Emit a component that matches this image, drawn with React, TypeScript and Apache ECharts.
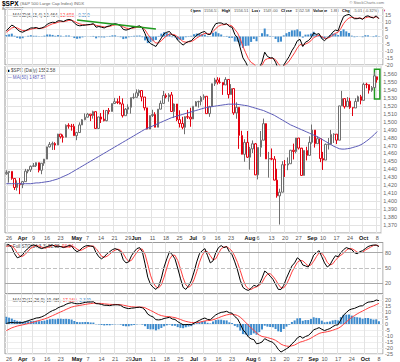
import React, { useEffect, useRef } from 'react';
import * as echarts from 'echarts';

const dates = [
  '3/23','3/26','3/27','3/28','3/29','3/30',
  '4/2','4/3','4/4','4/5','4/9','4/10','4/11','4/12','4/13','4/16','4/17','4/18','4/19','4/20','4/23','4/24','4/25','4/26','4/27','4/30',
  '5/1','5/2','5/3','5/4','5/7','5/8','5/9','5/10','5/11','5/14','5/15','5/16','5/17','5/18','5/21','5/22','5/23','5/24','5/25','5/29','5/30','5/31',
  '6/1','6/4','6/5','6/6','6/7','6/8','6/11','6/12','6/13','6/14','6/15','6/18','6/19','6/20','6/21','6/22','6/25','6/26','6/27','6/28','6/29',
  '7/2','7/3','7/5','7/6','7/9','7/10','7/11','7/12','7/13','7/16','7/17','7/18','7/19','7/20','7/23','7/24','7/25','7/26','7/27','7/30','7/31',
  '8/1','8/2','8/3','8/6','8/7','8/8','8/9','8/10','8/13','8/14','8/15','8/16','8/17','8/20','8/21','8/22','8/23','8/24','8/27','8/28','8/29','8/30','8/31',
  '9/4','9/5','9/6','9/7','9/10','9/11','9/12','9/13','9/14','9/17','9/18','9/19','9/20','9/21','9/24','9/25','9/26','9/27','9/28',
  '10/1','10/2','10/3','10/4','10/5','10/8'
];
const padDate = '10/9';

const xTickDates = ['3/26','4/2','4/9','4/16','4/23','5/1','5/7','5/14','5/21','5/29','6/1','6/11','6/18','6/25','7/2','7/9','7/16','7/23','8/1','8/6','8/13','8/20','8/27','9/4','9/10','9/17','9/24','10/1','10/8'];
const xTickTexts = ['26','Apr','9','16','23','May','7','14','21','29','Jun','11','18','25','Jul','9','16','23','Aug','6','13','20','27','Sep','10','17','24','Oct','8'];

const opens = [1434.5,1436.1,1437.5,1428.6,1417.2,1422.5,1420.9,1424.6,1437.8,1439.4,1443.8,1444.6,1448.4,1438.9,1447.8,1452.9,1468.3,1471.5,1472.5,1470.7,1484.4,1480.9,1480.4,1495.4,1494.3,1494.1,1482.4,1486.3,1495.9,1502.4,1505.6,1509.5,1507.7,1512.6,1491.5,1505.9,1503.2,1501.2,1514.1,1512.8,1522.8,1525.1,1524.1,1522.3,1507.5,1515.7,1518.1,1530.2,1530.6,1536.3,1539.2,1531.0,1517.4,1490.7,1507.7,1509.1,1493.0,1515.7,1523.0,1532.9,1531.1,1533.7,1512.8,1522.2,1502.6,1497.7,1492.9,1506.3,1505.7,1503.4,1519.4,1524.9,1525.4,1530.4,1531.9,1510.1,1518.8,1547.7,1552.5,1549.5,1549.4,1546.2,1553.1,1534.1,1541.6,1511.0,1518.1,1482.7,1459.0,1473.9,1455.3,1465.8,1472.2,1433.1,1467.7,1476.7,1497.5,1453.1,1453.6,1452.9,1426.5,1406.7,1411.3,1445.9,1445.6,1447.1,1464.1,1462.5,1479.4,1466.8,1432.4,1463.8,1457.6,1474.0,1489.4,1472.3,1478.6,1453.6,1451.7,1471.5,1471.6,1484.0,1484.3,1476.7,1519.8,1529.0,1518.8,1525.8,1517.7,1517.2,1525.4,1531.4,1526.8,1547.0,1546.6,1539.6,1542.8,1556.5];
const highs = [1438.9,1437.7,1437.5,1428.6,1426.2,1429.2,1425.5,1440.6,1440.2,1444.9,1448.0,1448.7,1448.4,1448.0,1453.1,1468.6,1474.4,1474.9,1474.2,1484.7,1484.4,1483.8,1496.6,1498.0,1497.2,1497.2,1487.3,1499.1,1503.3,1510.3,1511.0,1509.5,1513.8,1512.6,1506.2,1510.9,1514.8,1514.2,1517.2,1522.8,1529.9,1529.2,1532.4,1529.3,1517.1,1521.8,1530.2,1535.6,1540.6,1540.5,1539.2,1531.0,1517.4,1507.8,1515.0,1511.9,1515.7,1526.5,1538.7,1535.4,1535.9,1537.3,1522.9,1522.2,1514.3,1506.1,1506.8,1514.8,1517.5,1519.4,1526.0,1526.3,1532.4,1534.3,1531.9,1519.9,1547.9,1555.1,1555.9,1555.3,1549.4,1555.9,1553.1,1547.2,1541.6,1524.3,1518.1,1488.5,1477.9,1488.3,1468.4,1476.4,1473.2,1467.7,1488.3,1503.9,1497.2,1462.0,1466.3,1456.7,1440.8,1415.7,1450.3,1451.8,1455.0,1464.5,1472.4,1479.4,1479.4,1466.3,1463.8,1468.4,1481.5,1496.4,1489.4,1481.5,1478.6,1462.0,1472.5,1479.5,1489.6,1485.4,1484.3,1519.9,1538.7,1529.1,1530.9,1530.0,1518.0,1529.4,1532.8,1533.7,1549.0,1548.9,1546.6,1544.8,1561.9,1556.5];
const lows = [1433.2,1423.3,1427.0,1414.1,1413.3,1408.9,1416.4,1424.6,1435.1,1436.7,1443.3,1443.0,1436.2,1433.9,1444.5,1452.9,1467.5,1464.4,1464.5,1470.7,1478.8,1473.7,1480.4,1491.2,1488.7,1482.3,1476.7,1486.3,1495.9,1501.8,1505.5,1500.7,1503.8,1491.4,1491.5,1498.3,1500.4,1500.5,1509.3,1512.8,1522.7,1522.1,1521.9,1505.2,1507.5,1509.7,1510.1,1528.3,1530.6,1532.4,1525.6,1514.1,1490.4,1490.7,1505.8,1492.9,1493.0,1515.7,1523.0,1529.3,1525.1,1512.4,1504.8,1500.7,1492.7,1490.5,1484.2,1503.4,1493.6,1503.4,1519.4,1517.7,1520.5,1527.5,1510.0,1506.1,1518.8,1544.9,1546.7,1547.7,1533.7,1546.2,1529.2,1534.1,1508.6,1503.7,1465.8,1458.9,1449.6,1454.3,1439.6,1460.6,1432.8,1427.4,1455.8,1476.7,1453.1,1429.7,1451.5,1426.2,1404.4,1370.6,1411.3,1430.5,1439.0,1447.1,1452.5,1460.3,1465.0,1432.0,1432.4,1451.3,1457.6,1472.2,1467.4,1472.3,1449.1,1439.3,1451.7,1465.0,1471.6,1473.2,1471.8,1476.7,1519.8,1516.4,1518.8,1516.1,1507.1,1517.2,1525.4,1521.8,1526.8,1542.0,1535.3,1537.6,1543.6,1549.0];
const closes = [1436.1,1437.5,1428.6,1417.2,1422.5,1420.9,1424.6,1437.8,1439.4,1443.8,1444.6,1448.4,1438.9,1447.8,1452.9,1468.3,1471.5,1472.5,1470.7,1484.4,1480.9,1480.4,1495.4,1494.3,1494.1,1482.4,1486.3,1495.9,1502.4,1505.6,1509.5,1507.7,1512.6,1491.5,1505.9,1503.2,1501.2,1514.1,1512.8,1522.8,1525.1,1524.1,1522.3,1507.5,1515.7,1518.1,1530.2,1530.6,1536.3,1539.2,1531.0,1517.4,1490.7,1507.7,1509.1,1493.0,1515.7,1523.0,1532.9,1531.1,1533.7,1512.8,1522.2,1502.6,1497.7,1492.9,1506.3,1505.7,1503.4,1519.4,1524.9,1525.4,1530.4,1531.9,1510.1,1518.8,1547.7,1552.5,1549.5,1549.4,1546.2,1553.1,1534.1,1541.6,1511.0,1518.1,1482.7,1459.0,1473.9,1455.3,1465.8,1472.2,1433.1,1467.7,1476.7,1497.5,1453.1,1453.6,1452.9,1426.5,1406.7,1411.3,1445.9,1445.6,1447.1,1464.1,1462.5,1479.4,1466.8,1432.4,1463.8,1457.6,1474.0,1489.4,1472.3,1478.6,1453.6,1451.7,1471.5,1471.6,1484.0,1484.3,1476.7,1519.8,1529.0,1518.8,1525.8,1517.7,1517.2,1525.4,1531.4,1526.8,1547.0,1546.6,1539.6,1542.8,1557.6,1552.6];

const ma50 = [1422,1422,1422,1422,1422,1422,1422,1422,1422,1422,1422.5,
  1423,1423,1423.5,1424,1424.5,1425,1426,1427,1428,1429.5,
  1431,1432.5,1434,1436,1438,1440,1442,1444,1446,1448,
  1450,1452,1454,1456,1458,1460,1462,1464,1466,1468,
  1470,1472,1474,1476,1478,1480,1482,1484,1486,1488,
  1490,1491.5,1493,1494.5,1496,1497.5,1499,1500.5,1502,1503.5,
  1505,1506,1507,1508,1509,1510,1511,1512,1513,1514,
  1515,1516,1517,1518,1518.5,1519,1519.5,1520,1520.5,1521,
  1521.5,1522,1522,1522,1522,1521.5,1521,1520.5,1520,1519,
  1518,1517,1516,1515,1514,1512.5,1511,1509.5,1508,1506,
  1504,1502,1500,1498,1496,1494.5,1493,1491.5,1490,1488.5,
  1487,1485.5,1484,1482.5,1481,1479,1477,1475,1473,1471,
  1469,1467.5,1466,1465.5,1465.5,1466,1466.5,1467.5,1468.5,1469.5,
  1471,1473,1475.5,1478,1481,1484,1487.6];

const fastMacd = [4,6,8,7,5,3.5,3,4,5,6,6,6.3,5.5,6,6.8,8.5,9.5,10,9.8,11,11,10.5,11.5,12,11.5,9.5,8,7.5,7.8,8,8.3,8.5,9,6.5,7,6.5,6,7,7.5,8.5,9,8.5,7.5,5,4.5,5,6,6.5,7,7.5,6,2,-3,-5,-6,-7,-4,-1,2,3,3.5,1,0.5,-2.5,-4.5,-6,-4.5,-3.5,-3,-1,1,2,3,3.5,1.5,1.5,6,9,9.5,9.5,8.5,9,7,6.5,1.5,-1,-8,-15,-18,-22,-22,-21,-25,-22,-18,-11,-14,-15,-15,-18,-23,-25,-20,-17,-14,-10,-7,-3,-2,-7,-4,-3,-1,2.5,1.5,2,-1.5,-3,-1,0.5,3,4.5,4,9.5,14,15,15.5,14,12.5,12.5,13,12,14,14.5,13.5,13,14.5,12.5];
const fastSignal = [3,4.5,6,6.5,6,5,4.2,4.1,4.5,5.1,5.5,5.8,5.7,5.8,6.2,7.1,8.1,8.9,9.3,10,10.4,10.4,10.8,11.3,11.4,10.6,9.6,8.8,8.4,8.2,8.2,8.3,8.6,7.8,7.5,7.1,6.7,6.8,7.1,7.7,8.2,8.3,8,6.8,5.9,5.5,5.7,6,6.4,6.8,6.5,4.7,1.6,-1,-3,-4.6,-4.4,-3,-1,0.6,1.8,1.5,1.1,-0.3,-2,-3.6,-4,-3.8,-3.5,-2.5,-1.1,0.1,1.3,2.2,1.9,1.7,3.4,5.6,7.2,8.1,8.3,8.6,8,7.4,5,2.6,-1.6,-7,-11.4,-15.6,-18.2,-19.3,-21.6,-21.8,-20.3,-16.6,-15.6,-15.4,-15.2,-16.3,-19,-21.4,-20.8,-19.3,-17.2,-14.3,-11.4,-8,-5.6,-6.2,-5.3,-4.4,-3,-0.8,0.1,0.9,-0.1,-1.3,-1.2,-0.5,0.9,2.3,3,5.6,9,11.4,13,13.4,13,12.8,12.9,12.5,13.1,13.7,13.6,13.4,13.8,12.7];
const fastHist = [1,1.5,2,0.5,-1,-1.5,-1.2,-0.1,0.5,0.9,0.5,0.5,-0.2,0.2,0.6,1.4,1.4,1.1,0.5,1,0.6,0.1,0.7,0.7,0.1,-1.1,-1.6,-1.3,-0.6,-0.2,0.1,0.2,0.4,-1.3,-0.5,-0.6,-0.7,0.2,0.4,0.8,0.8,0.2,-0.5,-1.8,-1.4,-0.5,0.3,0.5,0.6,0.7,-0.5,-2.7,-4.6,-4,-3,-2.4,0.4,2,3,2.4,1.7,-0.5,-0.6,-2.2,-2.5,-2.4,-0.5,0.3,0.5,1.5,2.1,1.9,1.7,1.3,-0.4,-0.2,2.6,3.4,2.3,1.4,0.2,0.4,-1,-0.9,-3.5,-3.6,-6.4,-8,-6.6,-6.4,-3.8,-1.7,-3.4,-0.2,2.3,5.6,1.6,0.4,0.2,-1.7,-4,-3.6,0.8,2.3,3.2,4.3,4.4,5,3.6,-0.8,1.3,1.4,2,3.3,1.4,1.1,-1.4,-1.7,0.2,1,2.1,2.2,1,3.9,5,3.6,2.5,0.6,-0.5,-0.3,0.1,-0.5,0.9,0.8,-0.1,-0.4,0.7,-0.2];

const stoK = [95,96,90,78,70,72,76,84,88,94,95,94,90,88,90,92,94,95,92,93,92,90,92,94,93,86,82,85,90,93,94,93,92,80,72,68,72,78,82,86,88,86,82,66,60,62,74,82,88,90,82,58,32,18,12,8,14,30,52,68,82,76,68,50,30,12,8,15,25,42,62,78,84,88,74,60,64,80,90,94,90,92,82,76,62,46,26,12,8,6,10,16,14,18,30,44,40,34,28,18,8,8,16,30,42,54,60,70,66,56,54,52,62,75,80,84,72,60,52,56,66,74,72,80,86,90,88,86,80,78,82,84,88,92,94,95,95,92];
const stoD = [92,94,94,88,80,73,73,77,83,89,92,94,93,91,89,90,92,94,94,93,92,92,91,92,93,91,87,84,86,89,92,93,93,88,81,73,71,73,77,82,85,87,85,78,69,63,65,73,81,87,87,77,57,36,21,13,11,17,32,50,67,75,75,65,49,31,17,12,16,27,43,61,75,83,82,74,66,68,78,88,91,92,88,83,73,61,45,28,15,9,8,11,13,16,21,31,38,39,34,27,18,11,11,18,29,42,52,61,65,64,59,54,56,63,72,80,79,72,61,56,58,65,71,75,79,85,88,88,85,81,80,81,85,88,91,94,95,93];

const macd = [0.5,1,1.3,1,1,1,1.2,2,2.7,3.5,4.2,5,5.2,6,7,8.5,10,11.2,12,13.5,14.5,15.2,16.5,17.3,17.8,17.2,16.8,17,17.5,18,18.3,18.3,18.5,17,16.8,16.3,15.6,15.6,15.3,15.8,16,16,15.6,14,13.3,12.8,13.2,13.4,13.8,14,13.5,11.7,8.2,6.8,5.8,3.6,3.4,3.7,4.6,5.1,5.6,4.2,3.8,2,0.6,-0.6,-0.5,-0.4,-0.6,0.6,1.9,3,4.2,5,3.8,3.5,5.6,7.6,8.8,9.7,10,10.6,9.4,9,6.2,4.4,0.2,-4.8,-7.4,-10.8,-12.4,-13,-16.5,-16,-15,-12.2,-13.5,-14.5,-15.3,-17.8,-21.2,-23.4,-22,-20.6,-19.2,-16.5,-14.5,-11.6,-10.2,-11.8,-10.4,-9.6,-7.6,-4.8,-4,-3,-4.4,-5.5,-4.6,-3.8,-2.2,-1,-0.6,3.5,7.4,9.5,11.6,12.5,13,14,15,15.2,17,18.2,18.5,18.8,20,19.5];
const macdSignal = [-5.5,-4.3,-3.2,-2.4,-1.7,-1.2,-0.7,-0.2,0.4,1,1.6,2.3,2.9,3.5,4.2,5,6,7,8,9.1,10.1,11.1,12.2,13.2,14.1,14.7,15.1,15.5,15.9,16.3,16.7,17,17.3,17.2,17.2,17.1,16.8,16.6,16.4,16.3,16.3,16.2,16.1,15.7,15.2,14.7,14.4,14.2,14.1,14.1,14,13.5,12.4,11.3,10.2,8.9,7.8,7,6.5,6.2,6.1,5.7,5.3,4.6,3.8,2.9,2.2,1.7,1.2,1.1,1.2,1.5,2,2.6,2.8,3,3.5,4.3,5.2,6.1,6.9,7.6,8,8.2,7.8,7.1,5.7,3.6,1.4,-1,-3.3,-5.2,-7.5,-9.2,-10.4,-10.8,-11.3,-12,-12.6,-13.6,-15.1,-16.8,-17.8,-18.4,-18.6,-18.2,-17.5,-16.3,-15.1,-14.5,-13.7,-12.9,-11.8,-10.4,-9.1,-7.9,-7.2,-6.9,-6.4,-5.9,-5.2,-4.4,-3.6,-2.2,-0.3,1.7,3.7,5.5,7,8.4,9.7,10.8,12,13.2,14.2,15.1,16.1,17.2];
const macdHist = [6,5.3,4.5,3.4,2.7,2.2,1.9,2.2,2.3,2.5,2.6,2.7,2.3,2.5,2.8,3.5,4,4.2,4,4.4,4.4,4.1,4.3,4.1,3.7,2.5,1.7,1.5,1.6,1.7,1.6,1.3,1.2,-0.2,-0.4,-0.8,-1.2,-1,-1.1,-0.5,-0.3,-0.2,-0.5,-1.7,-1.9,-1.9,-1.2,-0.8,-0.3,-0.1,-0.5,-1.8,-4.2,-4.5,-4.4,-5.3,-4.4,-3.3,-1.9,-1.1,-0.5,-1.5,-1.5,-2.6,-3.2,-3.5,-2.7,-2.1,-1.8,-0.5,0.7,1.5,2.2,2.4,1,0.5,2.1,3.3,3.6,3.6,3.1,3,1.4,0.8,-1.6,-2.7,-5.5,-8.4,-8.8,-9.8,-9.1,-7.8,-9,-6.8,-4.6,-1.4,-2.2,-2.5,-2.7,-4.2,-6.1,-6.6,-4.2,-2.2,-0.6,1.7,3,4.7,4.9,2.7,3.3,3.3,4.2,5.6,5.1,4.9,2.8,1.4,1.8,2.1,3,3.4,3,5.7,7.7,7.8,7.9,7,6,5.6,5.3,4.4,5,5,4.3,3.7,3.9,2.3];

const FONT = 'Liberation Sans, Arial, sans-serif';
const GRID_LINE = '#e3e3e3';
const UP = '#6e6e6e';
const DOWN = '#e3000f';
const LEG = 4.6;

export default function App() {
  const ref = useRef<HTMLDivElement>(null);
  useEffect(() => {
    if (!ref.current) return;
    const chart = echarts.init(ref.current, undefined, { renderer: 'svg' });
    const cats = [...dates, padDate];
    const tickMap: Record<string, string> = {};
    xTickDates.forEach((d, k) => { tickMap[d] = xTickTexts[k]; });
    const isTick = (idx: number) => tickMap[cats[idx]] !== undefined;
    const monthNames = ['Apr', 'May', 'Jun', 'Jul', 'Aug', 'Sep', 'Oct'];

    const grids = [
      { left: 5, right: 17, top: 8, height: 57 },
      { left: 5, right: 17, top: 66, height: 167 },
      { left: 5, right: 17, top: 242.5, height: 51 },
      { left: 5, right: 17, top: 294, height: 60 },
    ].map(g => ({ ...g, show: true, borderColor: '#9a9a9a', borderWidth: 1, backgroundColor: '#fff' }));

    const xAxes = [0, 1, 2, 3].map(k => ({
      type: 'category', gridIndex: k, data: cats, boundaryGap: true,
      axisLine: { show: false }, axisTick: { show: false },
      axisLabel: {
        show: k === 1 || k === 3,
        interval: (idx: number) => isTick(idx),
        formatter: (v: string) => {
          const t = tickMap[v];
          if (t === undefined) return '';
          return monthNames.includes(t) ? `{b|${t}}` : t;
        },
        fontSize: 5.5, color: '#555', margin: 1.5, fontFamily: FONT,
        rich: { b: { fontWeight: 'bold', fontSize: 5.5, color: '#111', fontFamily: FONT } },
      },
      splitLine: { show: true, interval: (idx: number) => isTick(idx), lineStyle: { color: GRID_LINE, width: 1 } },
    }));

    const yLabel = { fontSize: 5.5, color: '#666', margin: 2, fontFamily: FONT };
    const yAxes = [
      { type: 'value', gridIndex: 0, position: 'right', min: -20, max: 20, interval: 5,
        axisLabel: { ...yLabel, showMaxLabel: false }, splitLine: { lineStyle: { color: '#eeeeee' } } },
      { type: 'value', gridIndex: 1, position: 'right', min: 1360, max: 1570, interval: 10,
        axisLabel: { ...yLabel, showMinLabel: false, showMaxLabel: false }, splitLine: { lineStyle: { color: GRID_LINE } } },
      { type: 'value', gridIndex: 2, position: 'right', min: 0, max: 100, interval: 10,
        axisLabel: { ...yLabel, formatter: (v: number) => (v === 20 || v === 50 || v === 80 ? String(v) : '') },
        splitLine: { show: false } },
      { type: 'value', gridIndex: 3, position: 'right', min: -25, max: 25, interval: 5,
        axisLabel: { ...yLabel, showMaxLabel: false }, splitLine: { lineStyle: { color: '#eeeeee' } } },
    ].map(a => ({ ...a, axisLine: { show: false }, axisTick: { show: false } }));

    const candleData = closes.map((c, i) => {
      const prev = i > 0 ? closes[i - 1] : opens[i];
      const col = c < prev ? DOWN : UP;
      return {
        value: [opens[i], c, lows[i], highs[i]],
        itemStyle: { color: '#ffffff', color0: col, borderColor: col, borderColor0: col, borderWidth: 1 },
      };
    });

    const line = (data: number[], color: string, xi: number, extra: any = {}) => ({
      type: 'line', data, xAxisIndex: xi, yAxisIndex: xi, symbol: 'none', silent: true,
      lineStyle: { color, width: 1 }, clip: true, ...extra,
    });
    const hist = (data: number[], xi: number) => ({
      type: 'bar', data, xAxisIndex: xi, yAxisIndex: xi, barWidth: 2, silent: true,
      itemStyle: { color: '#3d8bcd' },
    });

    const legend = (x: number, y: number, parts: [string, string, boolean?][], size = LEG) => ({
      type: 'text', left: x, top: y, silent: true,
      style: {
        text: parts.map((p, k) => `{s${k}|${p[0]}}`).join(''),
        rich: Object.fromEntries(parts.map((p, k) => [`s${k}`, { fill: p[1], fontSize: size, fontFamily: FONT, fontWeight: p[2] ? 'bold' : 'normal' }])),
      },
    });

    chart.setOption({
      animation: false,
      backgroundColor: '#ffffff',
      textStyle: { fontFamily: FONT },
      grid: grids,
      xAxis: xAxes,
      yAxis: yAxes,
      series: [
        hist(fastHist, 0),
        line(fastSignal, '#ff4040', 0),
        line(fastMacd, '#000000', 0, {
          markLine: {
            silent: true, symbol: 'none', label: { show: false },
            lineStyle: { color: '#1f9a1f', width: 1.5, type: 'solid' },
            data: [[{ coord: ['5/1', 11.6] }, { coord: ['6/12', 5.3] }]],
          },
        }),
        {
          type: 'candlestick', data: candleData, xAxisIndex: 1, yAxisIndex: 1, barWidth: 2, silent: true,
          markArea: {
            silent: true,
            itemStyle: { color: 'rgba(0,0,0,0)', borderColor: '#1e9a1e', borderWidth: 1.5 },
            data: [[{ xAxis: '10/5', yAxis: 1566 }, { xAxis: padDate, yAxis: 1528.5 }]],
          },
        },
        line(ma50, '#5c5cb8', 1),
        line(stoD, '#ff4040', 2),
        line(stoK, '#000000', 2, {
          markLine: {
            silent: true, symbol: 'none', label: { show: false },
            data: [
              { yAxis: 80, lineStyle: { color: '#a8a8a8', width: 1, type: 'solid' } },
              { yAxis: 50, lineStyle: { color: '#c0c0c0', width: 1, type: 'dashed' } },
              { yAxis: 20, lineStyle: { color: '#a8a8a8', width: 1, type: 'solid' } },
            ],
          },
        }),
        hist(macdHist, 3),
        line(macdSignal, '#ff4040', 3),
        line(macd, '#000000', 3),
      ],
      graphic: [
        legend(2, 0, [['$SPX ', '#000', true]], 6.5),
        legend(20, 1, [['(S&P 500 Large Cap Index) INDX', '#666']], 4.3),
        legend(2, 6.8, [['8-Oct-2007', '#555']], 4.3),
        { type: 'text', right: 16, top: 0, silent: true, style: { text: '© StockCharts.com', fill: '#777', fontSize: 4, fontFamily: FONT } },
        { type: 'text', right: 14, top: 4.5, silent: true,
          style: {
            text: '{k|Open} {v|1556.51} {k|High} {v|1556.51} {k|Low} {v|1549.00} {k|Close} {v|1552.58} {k|Volume} {v|1.8B} {k|Chg} {v|-5.01 (-0.32%)} {r|▼}',
            rich: {
              k: { fill: '#000', fontWeight: 'bold', fontSize: 4, fontFamily: FONT },
              v: { fill: '#555', fontSize: 4, fontFamily: FONT },
              r: { fill: '#d00', fontSize: 4, fontFamily: FONT },
            },
          } },
        legend(7, 12.5, [['— ', '#000'], ['MACD(6,13,4) 12.464, ', '#444'], ['12.693', '#ff4040'], [', -0.229', '#3d8bcd']]),
        legend(7, 68, [['■ ', '#000'], ['$SPX (Daily) 1552.58', '#444']]),
        legend(7, 74.5, [['— ', '#5c5cb8'], ['MA(50) 1487.57', '#5c5cb8']]),
        legend(7, 244, [['— ', '#000'], ['Full STO(14,3,3) 91.92, ', '#444'], ['93.24', '#ff4040']]),
        legend(7, 297.5, [['— ', '#000'], ['MACD(12,26,9) 19.489, ', '#444'], ['17.160', '#ff4040'], [', 2.329', '#3d8bcd']]),
      ],
    });
    return () => chart.dispose();
  }, []);
  return <div ref={ref} style={{ position: 'absolute', left: 0, top: 0, width: 400, height: 362, background: '#fff' }} />;
}
